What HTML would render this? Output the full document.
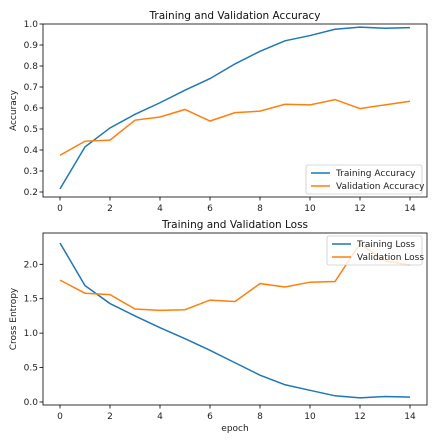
<!DOCTYPE html>
<html><head><meta charset="utf-8">
<style>
body{margin:0;background:#fff;}
svg{display:block;font-family:"DejaVu Sans","Liberation Sans",sans-serif;}
</style></head>
<body>
<svg id="c" width="440" height="440"></svg>
<script>
const epochs=[0,1,2,3,4,5,6,7,8,9,10,11,12,13,14];
const trainAcc=[0.215,0.415,0.505,0.57,0.625,0.685,0.74,0.81,0.87,0.92,0.945,0.975,0.985,0.98,0.983];
const valAcc=[0.375,0.442,0.447,0.542,0.557,0.593,0.538,0.578,0.585,0.618,0.615,0.64,0.597,0.615,0.632];
const trainLoss=[2.31,1.69,1.43,1.25,1.08,0.92,0.75,0.57,0.39,0.25,0.17,0.09,0.06,0.08,0.07];
const valLoss=[1.77,1.58,1.56,1.35,1.33,1.34,1.48,1.46,1.72,1.67,1.74,1.75,2.3,2.05,1.99];
const xTicks=[0,2,4,6,8,10,12,14];
const accTicks=[0.2,0.3,0.4,0.5,0.6,0.7,0.8,0.9,1.0];
const lossTicks=[0,0.5,1.0,1.5,2.0];

const NS="http://www.w3.org/2000/svg";
const svg=document.getElementById('c');
function mk(t,a,p){const e=document.createElementNS(NS,t);for(const k in a)e.setAttribute(k,a[k]);(p||svg).appendChild(e);return e;}
const L=43,R=427;
const sx=v=>60+(v-0)*(410-60)/14;

function panel(cfg){
  const g=mk('g',{});
  
  
  const sy=v=>cfg.y0px+(v-cfg.y0)*(cfg.y1px-cfg.y0px)/(cfg.y1-cfg.y0);
  const series=[[cfg.a,'#1f77b4',cfg.la],[cfg.b,'#ff7f0e',cfg.lb]];
  series.forEach((s,i)=>{
    const p=mk('polyline',{points:s[0].map((v,j)=>sx(epochs[j])+','+sy(v)).join(' '),fill:'none',stroke:s[1],'stroke-width':1.5},g);
    
    
  });
  const fr=mk('rect',{x:L,y:cfg.top,width:R-L,height:cfg.bot-cfg.top,fill:'none',stroke:'#000','stroke-width':0.8},g);
  
  xTicks.forEach(t=>{
    mk('line',{x1:sx(t),x2:sx(t),y1:cfg.bot,y2:cfg.bot+3.5,stroke:'#000','stroke-width':0.8},g);
    const tx=mk('text',{x:sx(t),y:cfg.bot+14,'font-size':9,'text-anchor':'middle',fill:'#222'},g);
    tx.textContent=t;
    
  });
  cfg.ticks.forEach(t=>{
    mk('line',{x1:L-3.5,x2:L,y1:sy(t),y2:sy(t),stroke:'#000','stroke-width':0.8},g);
    const tx=mk('text',{x:L-5,y:sy(t)+3,'font-size':9,'text-anchor':'end',fill:'#222'},g);
    tx.textContent=t.toFixed(1);
    
  });
  const ti=mk('text',{x:(L+R)/2,y:cfg.top-5,'font-size':10.5,'text-anchor':'middle',fill:'#111'},g);
  ti.textContent=cfg.title;
  const yl=mk('text',{x:0,y:0,'font-size':9,'text-anchor':'middle',fill:'#222',transform:`translate(16,${(cfg.top+cfg.bot)/2}) rotate(-90)`},g);
  yl.textContent=cfg.ylabel;
  const lg=mk('g',{},g);
  
  mk('rect',{x:cfg.lx,y:cfg.ly,width:cfg.lw,height:29,rx:2,fill:'#fff','fill-opacity':0.8,stroke:'#ccc','stroke-width':0.8},lg);
  series.forEach((s,i)=>{
    const yy=cfg.ly+8+i*13;
    mk('line',{x1:cfg.lx+5,x2:cfg.lx+24,y1:yy,y2:yy,stroke:s[1],'stroke-width':1.5},lg);
    const t=mk('text',{x:cfg.lx+30,y:yy+3,'font-size':9,fill:'#222'},lg);
    t.textContent=s[2];
  });
}
panel({name:'accuracy-chart',top:24,bot:197,y0:0.2,y1:1.0,y0px:192,y1px:24,a:trainAcc,b:valAcc,la:'Training Accuracy',lb:'Validation Accuracy',ticks:accTicks,title:'Training and Validation Accuracy',ylabel:'Accuracy',lx:306,ly:165,lw:116});
panel({name:'loss-chart',top:233,bot:405,y0:0,y1:2.0,y0px:402,y1px:264.3,a:trainLoss,b:valLoss,la:'Training Loss',lb:'Validation Loss',ticks:lossTicks,title:'Training and Validation Loss',ylabel:'Cross Entropy',lx:327,ly:236,lw:95});
const xl=mk('text',{x:235,y:431,'font-size':9,'text-anchor':'middle',fill:'#222'});
xl.textContent='epoch';


</script>
</body></html>
